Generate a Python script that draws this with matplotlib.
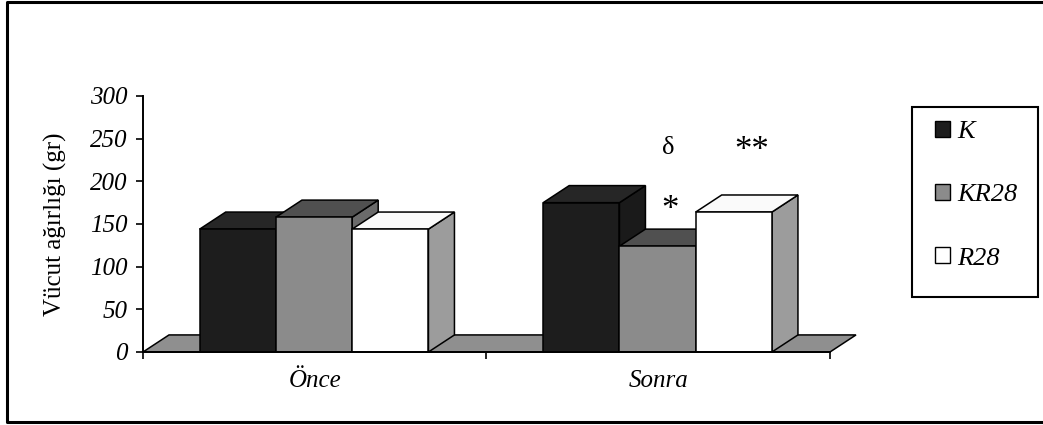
import matplotlib
matplotlib.use("Agg")
import matplotlib.pyplot as plt
from matplotlib.patches import Polygon, Rectangle, Patch
from matplotlib.lines import Line2D

# data
groups = ["Önce", "Sonra"]
series = ["K", "KR28", "R28"]
K = [144, 175]
KR28 = [158, 124]
R28 = [144, 164]
yticks = [0, 50, 100, 150, 200, 250, 300]

# face colours (front, top, side) per series
front_c = ["#1d1d1d", "#8b8b8b", "#ffffff"]
top_c = ["#262626", "#505050", "#fafafa"]
side_c = ["#1a1a1a", "#6a6a6a", "#9c9c9c"]

SERIF = ["Liberation Serif", "DejaVu Serif"]
plt.rcParams["font.family"] = SERIF

fig = plt.figure(figsize=(10.43, 4.25), dpi=100)
ax = fig.add_axes([143 / 1043, 1 - 352 / 425, 687 / 1043, 256 / 425])
ax.set_xlim(0, 2)
ax.set_ylim(0, 300)

ddx, ddy = 0.0757, 20.0   # oblique depth offset (x units, value units)
w = 0.222
start = 0.165


def box(x0, h, fc, tc, sc, z):
    side = [(x0 + w, 0), (x0 + w + ddx, ddy), (x0 + w + ddx, h + ddy), (x0 + w, h)]
    top = [(x0, h), (x0 + w, h), (x0 + w + ddx, h + ddy), (x0 + ddx, h + ddy)]
    front = [(x0, 0), (x0 + w, 0), (x0 + w, h), (x0, h)]
    for pts, c in ((side, sc), (top, tc), (front, fc)):
        ax.add_patch(Polygon(pts, closed=True, facecolor=c, edgecolor="black",
                             linewidth=1.1, clip_on=False, zorder=z))


# floor
ax.add_patch(Polygon([(0, 0), (2, 0), (2 + ddx, ddy), (ddx, ddy)], closed=True,
                     facecolor="#8f8f8f", edgecolor="black", linewidth=1.1,
                     clip_on=False, zorder=1))

vals = [K, KR28, R28]
z = 2
for g in range(len(groups)):
    for s in range(len(series)):
        box(g + start + s * w, vals[s][g], front_c[s], top_c[s], side_c[s], z)
        z += 1

# axes styling
for sp in ("top", "right"):
    ax.spines[sp].set_visible(False)
ax.spines["left"].set_linewidth(1.4)
ax.spines["bottom"].set_linewidth(1.4)
ax.spines["bottom"].set_zorder(50)
ax.set_yticks(yticks)
ax.set_yticklabels([str(v) for v in yticks], fontstyle="italic", fontsize=18)
ax.tick_params(axis="y", direction="out", length=5, width=1.2, pad=6)
ax.set_xticks([0, 1, 2])
ax.set_xticklabels([])
ax.tick_params(axis="x", direction="out", length=5, width=1.2)
ax.set_xticks([0.5, 1.5], minor=True)
ax.set_xticklabels(groups, minor=True, fontstyle="italic", fontsize=18)
ax.tick_params(axis="x", which="minor", length=0, pad=13)
ax.patch.set_visible(False)

ax.set_ylabel("Vücut ağırlığı (gr)", fontsize=18, labelpad=17)

# significance marks
ax.text(1.528, 239, "δ", ha="center", va="center", fontsize=19)
ax.text(1.773, 235, "**", ha="center", va="center", fontsize=25)
ax.text(1.534, 166, "*", ha="center", va="center", fontsize=25)

# legend (frame drawn as its own rectangle)
handles = [Patch(facecolor=front_c[i], edgecolor="black", linewidth=1.0) for i in range(3)]
leg = fig.legend(handles, series, loc="upper left",
                 bbox_to_anchor=(935 / 1043, 1 - 121 / 425),
                 frameon=False, prop={"family": SERIF, "style": "italic", "size": 19},
                 handlelength=0.55, handleheight=0.55, handletextpad=0.3,
                 labelspacing=1.55, borderpad=0, borderaxespad=0)
fig.add_artist(Rectangle((912 / 1043, 1 - 297 / 425), 126 / 1043, 190 / 425,
                         transform=fig.transFigure, facecolor="none",
                         edgecolor="black", linewidth=1.5))

# outer frame (right side runs off the scan)
fx0, fy0, fy1 = 7 / 1043, 1 - 422 / 425, 1 - 1.5 / 425
fig.add_artist(Line2D([1.01, fx0, fx0, 1.01], [fy1, fy1, fy0, fy0],
                      transform=fig.transFigure, color="black", linewidth=2.2))

fig.savefig("out.png", dpi=100)
